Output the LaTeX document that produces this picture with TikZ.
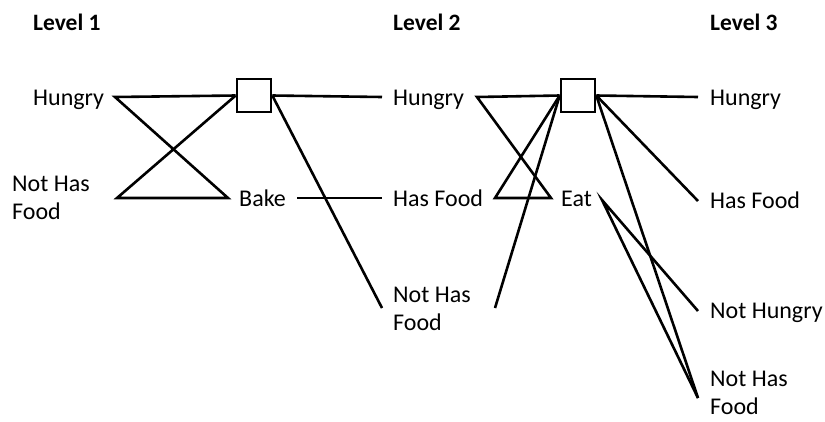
\documentclass[tikz,border=0pt]{standalone}
\usepackage{fontspec}
\setmainfont{Carlito}
\begin{document}
\begin{tikzpicture}[x=1pt,y=-1pt,
  lbl/.style={inner sep=0pt, font=\fontsize{24}{28}\selectfont},
  lvl/.style={lbl, font=\fontsize{23.5}{28}\selectfont\bfseries, anchor=base west},
  one/.style={lbl, anchor=base west},
  two/.style={lbl, anchor=west, align=left},
  box/.style={draw, line width=2.6pt, fill=white, minimum width=34pt, minimum height=33pt, inner sep=0pt},
  edge/.style={line width=2.6pt}]
\useasboundingbox (0,0) rectangle (825,421);
% level titles
\node[lvl] (lv1) at (33,30) {Level 1};
\node[lvl] (lv2) at (393,30) {Level 2};
\node[lvl] (lv3) at (710,30) {Level 3};
% labels
\node[one] (h1) at (33,105) {Hungry};
\node[two] (n1) at (12,198) {Not Has\\Food};
\node[one] (bake) at (239,206) {Bake};
\node[one] (h2) at (393,105) {Hungry};
\node[one] (hf2) at (393,206) {Has Food};
\node[two] (n2) at (393,309) {Not Has\\Food};
\node[one] (eat) at (561,206) {Eat};
\node[one] (h3) at (710,105) {Hungry};
\node[one] (hf3) at (710,208) {Has Food};
\node[one] (nh3) at (710,318) {Not Hungry};
\node[two] (n3) at (710,393) {Not Has\\Food};
% ports
\coordinate (pH1) at (115,97);
\coordinate (pN1) at (117,198);
\coordinate (pBi) at (228,198);
\coordinate (pBo) at (297,198);
\coordinate (pH2i) at (382,97);
\coordinate (pHF2i) at (382,198);
\coordinate (pN2i) at (382,308);
\coordinate (pH2o) at (477,97);
\coordinate (pHF2o) at (495,198);
\coordinate (pN2o) at (495,308);
\coordinate (pEi) at (551,198);
\coordinate (pEo) at (602,200);
\coordinate (pH3) at (698,97);
\coordinate (pHF3) at (698,201);
\coordinate (pNH3) at (698,311);
\coordinate (pN3) at (698,398);
% decision squares
\node[box] (sq1) at (254,95.5) {};
\node[box] (sq2) at (578,95.5) {};
% connectors
\draw[edge] (sq1.west) -- (pH1) -- (pBi) -- (pN1) -- (sq1.west);
\draw[edge] (sq1.east) -- (pH2i);
\draw[edge] (sq1.east) -- (pN2i);
\draw[edge] (pBo) -- (pHF2i);
\draw[edge] (sq2.west) -- (pH2o) -- (pEi) -- (pHF2o) -- (sq2.west);
\draw[edge] (pN2o) -- (sq2.west);
\draw[edge] (sq2.east) -- (pH3);
\draw[edge] (sq2.east) -- (pHF3);
\draw[edge] (sq2.east) -- (pN3);
\draw[edge] (pNH3) -- (pEo) -- (pN3);
% redraw squares on top
\node[box] at (sq1) {};
\node[box] at (sq2) {};
\end{tikzpicture}
\end{document}
